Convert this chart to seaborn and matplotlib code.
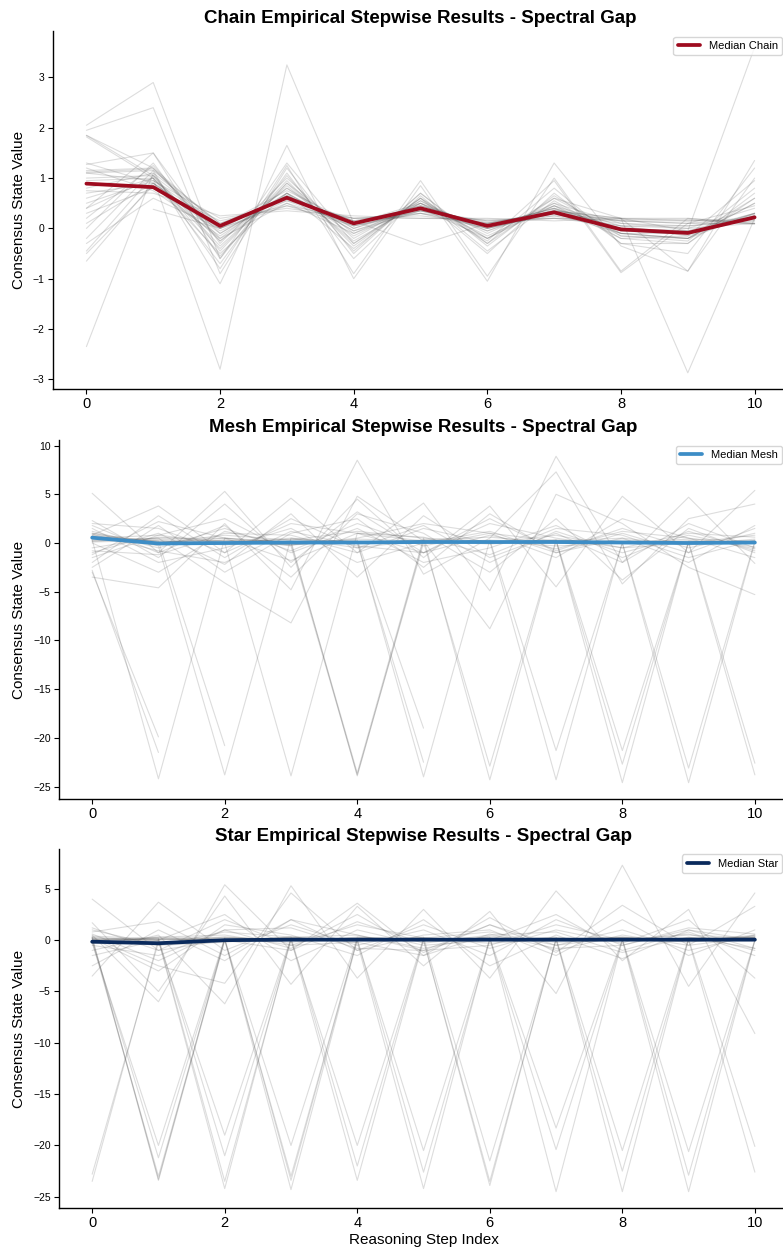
import matplotlib
matplotlib.use("Agg")
import matplotlib.pyplot as plt
import numpy as np
import pandas as pd
import seaborn as sns

# Passos de raciocinio (eixo x)
STEPS = list(range(11))

# Medianas por topologia
CHAIN_MEDIAN = [0.89, 0.82, 0.05, 0.61, 0.10, 0.40, 0.05, 0.32, -0.02, -0.09, 0.22]
MESH_MEDIAN = [0.55, -0.05, 0.0, 0.05, 0.05, 0.1, 0.1, 0.1, 0.05, 0.0, 0.05]
STAR_MEDIAN = [-0.15, -0.3, 0.0, 0.05, 0.05, 0.05, 0.05, 0.05, 0.05, 0.05, 0.05]

nan = np.nan

# Trajetorias individuais (aproximadas)
CHAIN_RUNS = [
    [1.85, 1.2, -0.2, 0.8, 0.0, 0.45, 0.05, 0.4, 0.0, -0.1, 0.3],
    [1.82, 1.0, -0.4, 0.9, -0.1, 0.5, -0.05, 0.45, 0.05, -0.15, 0.25],
    [1.85, 1.05, 0.05, 0.6, 0.15, -0.33, 0.1, 0.35, 0.15, 0.15, 0.2],
    [2.05, 2.9, -0.6, 1.3, -0.3, 0.6, -0.2, 0.6, -0.1, -0.2, 0.5],
    [1.95, 2.4, -0.9, 1.2, -0.5, 0.7, -0.3, 0.8, -0.3, -0.3, 0.6],
    [1.27, 1.5, -0.3, 1.0, -0.2, 0.55, -0.1, 0.5, 0.1, 0.0, 0.4],
    [1.15, 1.2, 0.05, 0.6, 0.15, 0.35, 0.1, 0.3, 0.15, 0.1, 0.2],
    [1.1, 1.15, 0.1, 0.55, 0.2, 0.3, 0.15, 0.25, 0.2, 0.15, 0.15],
    [-2.35, 1.1, -0.8, 1.25, -0.9, 0.95, -0.95, 1.0, -0.85, 0.2, 0.1],
    [-0.2, 1.15, -1.1, 1.65, -1.0, 0.85, -1.05, 1.3, -0.35, -0.85, 1.35],
    [-0.65, 0.9, -0.5, 0.7, -0.4, 0.6, -0.5, 0.7, -0.3, -0.5, 1.2],
    [-0.5, 0.85, -0.2, 0.5, -0.1, 0.4, -0.2, 0.45, -0.2, -0.15, 0.95],
    [0.1, 0.9, 0.0, 0.65, 0.05, 0.35, 0.0, 0.35, -0.05, -0.1, 0.25],
    [0.3, 0.8, 0.15, 0.45, 0.2, 0.25, 0.1, 0.2, 0.15, 0.1, 0.1],
    [0.5, 0.95, 0.05, 0.75, 0.1, 0.45, 0.05, 0.4, -0.1, -0.2, 0.3],
    [0.75, 0.7, 0.25, 0.35, 0.25, 0.2, 0.2, 0.15, 0.2, 0.2, 0.1],
    [nan, 0.38, 0.0, 0.45, 0.05, 0.3, 0.05, 0.25, 0.0, -0.05, 0.2],
    [1.0, 1.05, -0.35, 0.85, -0.25, 0.5, -0.15, 0.45, -0.1, -0.2, 0.5],
    [1.2, 0.75, -0.15, 0.7, -0.05, 0.35, 0.15, 0.2, 0.05, 0.05, 0.15],
    [0.6, 1.0, -0.7, 1.1, -0.6, 0.65, -0.45, 0.55, -0.2, -0.3, 0.7],
    [-0.3, 0.6, 0.0, 0.5, 0.1, 0.3, 0.0, 0.3, 0.05, 0.0, 0.1],
    [0.2, 1.25, -0.25, 0.8, -0.15, 0.5, -0.25, 0.95, -0.88, 0.1, 0.45],
    [0.0, 1.3, -0.45, 0.95, -0.35, 0.6, -0.3, 0.6, 0.2, -0.85, 1.0],
    [1.1, 0.95, 0.2, 0.4, 0.2, 0.2, 0.18, 0.2, 0.18, 0.18, 0.08],
    [0.4, 1.5, -0.6, 1.05, -0.45, 0.7, -0.35, 0.65, -0.15, -0.25, 0.8],
    [1.3, 0.9, -0.05, 0.55, 0.05, 0.35, 0.1, 0.3, 0.0, -0.1, 0.3],
    [0.8, 1.1, 0.1, 0.6, 0.15, 0.4, 0.05, 0.35, 0.2, -0.05, 0.3],
    [0.9, 0.8, 0.0, 0.65, 0.1, 0.45, 0.05, 0.4, 0.0, -0.05, 3.6],
    [0.7, 0.9, -0.1, 0.7, 0.0, 0.4, 0.0, 0.35, 0.2, -2.87, 0.2],
    [0.4, 1.0, -2.8, 3.25, 0.1, 0.5, 0.0, 0.3, -0.1, -0.1, 0.25],
    [1.12, 1.18, -0.1, 0.65, 0.1, 0.38, 0.12, 0.28, 0.1, 0.05, 0.18],
    [0.95, 1.0, -0.25, 0.7, -0.05, 0.42, -0.05, 0.38, -0.05, -0.12, 0.28],
    [-0.45, 1.05, -0.55, 0.9, -0.3, 0.55, -0.2, 0.5, -0.15, -0.2, 0.6],
]

MESH_RUNS = [
    [1.2, -0.5, 1.5, -0.8, 2.0, -0.3, 1.0, 0.2, 0.5, -0.2, 0.4],
    [-2.0, 2.8, -1.5, 2.5, -0.5, 1.8, -2.0, 1.2, -1.0, 0.8, -0.6],
    [2.3, -1.5, 4.0, -2.0, 3.2, -1.0, 2.5, -0.8, 1.5, -0.5, 1.0],
    [-1.0, 1.0, -2.2, 3.0, -3.5, 2.8, -1.5, 1.0, -2.0, 2.0, -0.5],
    [5.1, -1.0, 5.3, -2.5, 4.5, -1.5, 3.8, -4.5, 4.8, -1.0, 5.4],
    [0.8, 3.8, -1.0, 4.6, -1.0, 4.1, -4.9, 8.9, -2.0, 4.7, -2.1],
    [-3.5, -4.6, 2.0, -4.8, 8.5, -3.2, 0.5, 7.3, -4.2, 2.5, 4.0],
    [0.3, 0.5, -4.1, -8.2, 4.8, 0.2, -8.8, 5.0, 2.0, -2.5, -5.3],
    [1.0, 0.0, 0.8, 0.3, 1.2, 0.5, 0.2, -0.3, 0.0, 0.4, 0.2],
    [0.5, 0.2, 0.0, 0.5, -0.5, 0.3, 0.6, 0.0, 0.3, 0.0, 0.1],
    [-0.8, -1.2, 1.0, 0.8, -1.0, 1.5, 0.0, 0.8, -0.5, 0.0, 0.8],
    [1.5, -2.0, -0.5, 1.5, -2.0, 0.0, 1.2, -1.0, 1.0, -1.0, 1.5],
    [-1.5, 0.8, 2.5, -1.0, 1.5, -2.0, -0.5, 1.8, -1.5, 1.2, -0.8],
    [0.0, -3.0, 1.2, -0.2, 0.5, 2.0, 1.0, -1.5, 2.5, 0.5, -1.5],
    [2.0, 1.5, -1.0, 2.0, 1.0, -1.0, 2.0, 0.5, -0.5, 1.0, 0.6],
    [0.6, 0.1, 0.3, -0.2, 0.4, 0.2, -0.1, 0.3, 0.1, 0.2, 0.0],
    [-2.5, 1.8, -3.0, 1.0, 2.5, -2.5, 3.0, -1.0, 0.5, -2.0, 1.8],
    [1.8, -1.0, 1.8, -3.5, 3.0, 1.0, -3.0, 2.5, -3.8, 1.5, -1.0],
    [-1.2, 2.2, 0.5, -1.8, 1.0, 0.6, -1.2, 1.5, 0.8, -1.5, 0.3],
    [0.9, -0.8, -2.0, 1.2, -0.3, -1.0, 0.8, -0.6, 1.2, 0.5, -0.4],
    [-3.0, -19.9],
    [-2.8, -21.5],
    [0.3, -24.2, 0.5, 0.0, 0.2, 0.1, -22.9, 0.3, 0.0, 0.2, 0.1],
    [0.8, 0.2, -20.8],
    [1.0, -0.3, -23.8, 0.5, 0.0, 0.3, 0.2, -24.3, 0.1, 0.0, 0.2],
    [0.5, 0.8, 0.0, -23.9, 1.0, 0.2, 0.1, 0.3, -24.6, 0.2, 0.0],
    [0.2, 0.5, 0.5, -0.3, -23.8, 0.0, 0.3, 0.1, 0.0, -24.6, 0.1],
    [0.6, -0.2, 0.3, 0.0, -23.6, 0.5, -24.3, 0.2, 0.1, 0.0, -23.8],
    [0.1, 0.3, -0.2, 0.2, -23.9, 0.3, 0.0, 0.2, -22.7, 0.1, 0.0],
    [0.4, 0.0, 0.5, 0.1, 0.3, -19.0],
    [-0.5, 0.6, 0.2, 0.3, 0.0, -22.5],
    [0.2, 0.4, 0.1, -0.2, 0.2, -24.0, 0.3, -21.3, 0.0, -23.1, 0.2],
    [0.7, 0.1, 0.0, 0.4, 0.1, 0.2, 0.0, 0.3, -21.3, 0.1, -22.6],
]

STAR_RUNS = [
    [1.0, -0.5, 0.8, 0.3, 0.5, -0.8, 0.4, -0.2, 0.0, 0.5, 0.2],
    [4.0, -1.0, 2.0, -0.5, 1.5, 0.2, 0.8, -0.5, 0.3, -0.2, 0.5],
    [-3.5, 3.7, -1.0, 1.5, -0.5, 1.0, -1.5, 2.0, -0.5, 1.0, -0.8],
    [0.5, -6.0, 5.4, -1.0, 3.6, -1.5, 2.2, -1.2, 3.4, -0.5, 3.3],
    [1.7, -5.0, 4.3, -4.3, 3.3, -2.5, 2.8, -5.2, 7.3, -4.5, 4.6],
    [-1.0, 0.5, -6.2, 5.3, -3.7, 3.0, -3.7, 4.8, -2.0, 3.0, -9.1],
    [0.3, -2.5, -4.2, 4.6, -1.0, 1.5, -0.8, 1.0, -0.3, 2.0, -3.7],
    [-0.5, -1.5, 1.0, -0.8, 2.5, -1.2, 1.5, -0.5, 1.0, -1.0, 0.5],
    [0.8, 1.8, -1.5, 2.0, -1.0, 0.5, 1.0, -1.5, 2.0, -1.5, 1.0],
    [-1.5, 0.0, 2.5, -2.0, 1.0, -0.5, 0.0, 2.5, -1.0, 0.8, -1.5],
    [0.2, -3.0, 1.5, 0.5, -1.5, 2.0, -2.5, 0.5, -1.8, 1.0, 0.0],
    [-2.5, 1.0, -2.0, 2.0, 0.5, -1.0, 1.5, -1.0, 0.5, -0.5, 0.3],
    [1.2, -1.0, 0.0, -1.0, 1.8, -0.3, 0.5, 0.8, -1.2, 0.3, -0.8],
    [0.0, -0.5, -0.2, 0.3, 0.0, 0.2, -0.3, 0.1, 0.2, 0.0, 0.4],
    [-0.3, 0.3, 0.5, -0.5, -0.2, -1.5, 0.6, -0.8, -0.5, 1.2, 0.6],
    [0.6, -2.0, 1.0, 1.2, -0.8, -1.0, -0.5, 1.5, 0.0, 0.6, -1.0],
    [-23.5, 0.1, 0.0, 0.3, -0.2, -24.2, 0.2, 0.0, 0.1, -0.1, 0.0],
    [-22.8, -0.2, 0.3, 0.0, 0.2, -0.1, 0.1, -20.4, 0.0, 0.2, 0.1],
    [0.2, -23.4, 0.0, 0.3, -22.0, 0.1, 0.0, 0.2, 0.0, -24.5, 0.0],
    [0.0, -21.2, 0.1, -0.2, 0.3, 0.0, -23.5, 0.1, 0.2, 0.0, 0.3],
    [-0.3, -20.0, 0.2, 0.0, 0.1, 0.2, 0.0, 0.3, -24.5, 0.1, 0.0],
    [0.1, 0.0, -24.2, 0.2, 0.0, -20.5, 0.1, 0.0, 0.2, 0.0, -22.6],
    [0.4, 0.1, -23.5, 0.0, 0.2, 0.0, 0.3, -24.5, 0.0, 0.2, 0.1],
    [-0.1, 0.2, -21.0, 0.1, 0.0, 0.3, -21.5, 0.0, 0.1, -20.6, 0.0],
    [0.3, -0.1, -19.0, 0.2, 0.1, 0.0, 0.2, 0.1, -20.5, 0.2, 0.3],
    [0.0, 0.3, 0.1, -24.3, 0.0, 0.2, 0.1, 0.0, -22.5, 0.1, 0.2],
    [0.2, 0.0, 0.2, -23.4, 0.1, 0.0, -23.9, 0.2, 0.0, 0.1, -20.1],
    [-0.2, 0.1, 0.0, -20.0, 0.3, 0.1, 0.0, 0.2, 0.1, -22.9, 0.0],
    [0.1, 0.2, 0.0, 0.1, -23.4, 0.0, 0.2, -18.3, 0.1, 0.0, 0.2],
    [0.0, 0.1, 0.3, 0.0, -20.0, 0.2, 0.0, 0.1, 0.3, 0.0, 0.1],
    [0.3, -23.3, 0.2, 0.0, 0.1, -22.6, 0.0, 0.1, 0.2, 0.0, 0.2],
    [-0.1, -23.0, 0.0, -23.0, 0.1, 0.0, 0.2, 0.0, 0.1, 0.2, 0.0],
]

PANELS = [
    ("Chain", CHAIN_RUNS, CHAIN_MEDIAN, "#9e0b1f"),
    ("Mesh", MESH_RUNS, MESH_MEDIAN, "#3d8dc6"),
    ("Star", STAR_RUNS, STAR_MEDIAN, "#0a2a5c"),
]

# posicoes dos eixos em fracao da figura (left, bottom, width, height)
AXES_RECTS = [
    (0.0677, 0.6890, 0.9387, 0.2862),
    (0.0754, 0.3613, 0.9310, 0.2870),
    (0.0754, 0.0344, 0.9310, 0.2870),
]


def runs_to_long(runs):
    # converte lista de trajetorias em formato longo para o seaborn
    rows = []
    for run_id, values in enumerate(runs):
        for step, value in enumerate(values):
            if not np.isnan(value):
                rows.append({"run": run_id, "step": step, "value": value})
    return pd.DataFrame(rows)


def main():
    sns.set_theme(style="ticks")
    plt.rcParams["font.family"] = ["Liberation Sans", "DejaVu Sans"]
    plt.rcParams["text.color"] = "black"
    plt.rcParams["axes.labelcolor"] = "black"
    plt.rcParams["xtick.color"] = "black"
    plt.rcParams["ytick.color"] = "black"
    plt.rcParams["axes.edgecolor"] = "black"

    fig = plt.figure(figsize=(7.83, 12.51), dpi=100)

    for i, (name, runs, median, color) in enumerate(PANELS):
        ax = fig.add_axes(AXES_RECTS[i])
        df = runs_to_long(runs)
        sns.lineplot(data=df, x="step", y="value", units="run", estimator=None,
                     color="#555555", alpha=0.2, linewidth=0.8, ax=ax, legend=False)
        sns.lineplot(x=STEPS, y=median, color=color, linewidth=2.7,
                     label=f"Median {name}", ax=ax)

        ax.set_title(f"{name} Empirical Stepwise Results - Spectral Gap",
                     fontsize=13.5, fontweight="bold", pad=6)
        ax.set_ylabel("Consensus State Value", fontsize=11, labelpad=5)
        ax.set_xlabel("Reasoning Step Index" if i == 2 else "", fontsize=11, labelpad=2)
        ax.set_xticks([0, 2, 4, 6, 8, 10])
        ax.tick_params(axis="both", length=3.5, width=0.8, pad=2.5)
        ax.tick_params(axis="x", labelsize=10.5)
        ax.tick_params(axis="y", labelsize=7.5)
        for spine in ax.spines.values():
            spine.set_linewidth(1.0)
        leg = ax.legend(loc="upper right", fontsize=8)
        leg.get_frame().set_edgecolor("#cccccc")
        sns.despine(ax=ax)

    fig.savefig("out.png", dpi=100)
    plt.close(fig)


if __name__ == "__main__":
    main()
